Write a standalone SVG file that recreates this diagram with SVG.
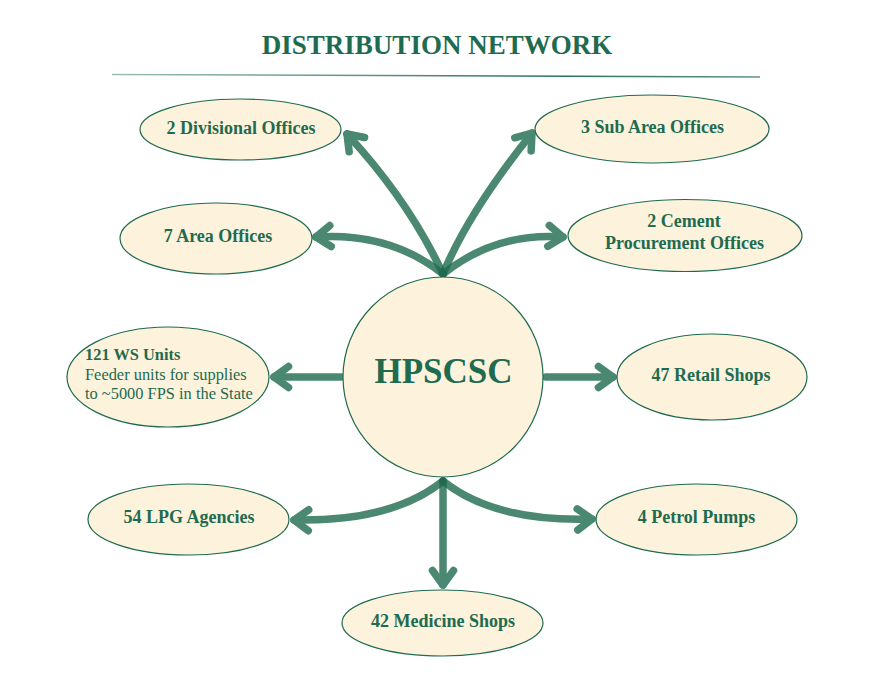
<svg xmlns="http://www.w3.org/2000/svg" width="875" height="674" viewBox="0 0 875 674">
<defs>
<linearGradient id="rule" x1="0" y1="0" x2="1" y2="0">
<stop offset="0" stop-color="#9dbfae"/>
<stop offset="0.7" stop-color="#2a7458"/>
<stop offset="1" stop-color="#5e957e"/>
</linearGradient>
<marker id="ah" markerUnits="userSpaceOnUse" orient="auto" overflow="visible" markerWidth="40" markerHeight="40" refX="0" refY="0">
<path d="M-14.5,-10.5 L0,0 L-14.5,10.5" fill="none" stroke="#1f6b4f" stroke-width="7.5" stroke-linecap="round" stroke-linejoin="round"/>
</marker>
</defs>
<style>
.node ellipse, .node circle { fill:#fdf2dc; stroke:#1e6b4f; stroke-width:1.2; }
.lbl { font-family:"Liberation Serif","Times New Roman",serif; font-weight:bold; font-size:18px; fill:#1e6b4f; text-anchor:middle; }
.sub { font-family:"Liberation Serif","Times New Roman",serif; font-size:16.4px; fill:#1e6b4f; }
.arrow { opacity:0.8; }
.arrow path { fill:none; stroke:#1f6b4f; stroke-width:7.5; stroke-linecap:round; marker-end:url(#ah); }
</style>
<rect width="875" height="674" fill="#ffffff"/>
<g id="title">
<text x="437" y="54" style="font-family:'Liberation Serif','Times New Roman',serif;font-weight:bold;font-size:27px;fill:#1e6b4f;text-anchor:middle">DISTRIBUTION NETWORK</text>
<line x1="112" y1="74.5" x2="760" y2="77" stroke="url(#rule)" stroke-width="1.6"/>
</g>
<g id="connectors">
<g class="arrow"><path d="M443,274 Q409,201 347,134"/></g>
<g class="arrow"><path d="M443,274 Q468,213 532,133"/></g>
<g class="arrow"><path d="M443,274 Q390,232 316,237"/></g>
<g class="arrow"><path d="M443,274 Q496,232 563,237"/></g>
<g class="arrow"><path d="M341,377 L274,377"/></g>
<g class="arrow"><path d="M546,377 L613,377"/></g>
<g class="arrow"><path d="M443,481 Q392,522 294,520"/></g>
<g class="arrow"><path d="M443,481 Q494,522 592,519"/></g>
<g class="arrow"><path d="M443,481 L443,585"/></g>
</g>
<g id="hpscsc" class="node">
<circle cx="443" cy="377" r="100"/>
<text x="443.5" y="383" class="lbl" style="font-size:35px">HPSCSC</text>
</g>
<g id="divisional" class="node">
<ellipse cx="240.5" cy="129.5" rx="100.5" ry="30.5"/>
<text x="241" y="133.5" class="lbl">2 Divisional Offices</text>
</g>
<g id="subarea" class="node">
<ellipse cx="652" cy="129" rx="117" ry="34"/>
<text x="652.5" y="133" class="lbl">3 Sub Area Offices</text>
</g>
<g id="area" class="node">
<ellipse cx="216" cy="238.5" rx="96" ry="35.5"/>
<text x="218" y="242" class="lbl">7 Area Offices</text>
</g>
<g id="cement" class="node">
<ellipse cx="685" cy="235.5" rx="117" ry="36"/>
<text x="684" y="227" class="lbl">2 Cement</text>
<text x="684.5" y="249" class="lbl">Procurement Offices</text>
</g>
<g id="ws" class="node">
<ellipse cx="168" cy="377" rx="101" ry="50"/>
<text x="85" y="360" class="sub" style="font-weight:bold">121 WS Units</text>
<text x="85" y="380" class="sub">Feeder units for supplies</text>
<text x="85" y="398.5" class="sub">to ~5000 FPS in the State</text>
</g>
<g id="retail" class="node">
<ellipse cx="712" cy="377" rx="95" ry="43"/>
<text x="711" y="380.5" class="lbl">47 Retail Shops</text>
</g>
<g id="lpg" class="node">
<ellipse cx="188.5" cy="519.5" rx="100.5" ry="35.5"/>
<text x="189" y="523" class="lbl">54 LPG Agencies</text>
</g>
<g id="petrol" class="node">
<ellipse cx="696.5" cy="519.5" rx="100.5" ry="35.5"/>
<text x="696.5" y="523" class="lbl">4 Petrol Pumps</text>
</g>
<g id="medicine" class="node">
<ellipse cx="442.5" cy="623" rx="100.5" ry="33"/>
<text x="443" y="627" class="lbl">42 Medicine Shops</text>
</g>
</svg>
